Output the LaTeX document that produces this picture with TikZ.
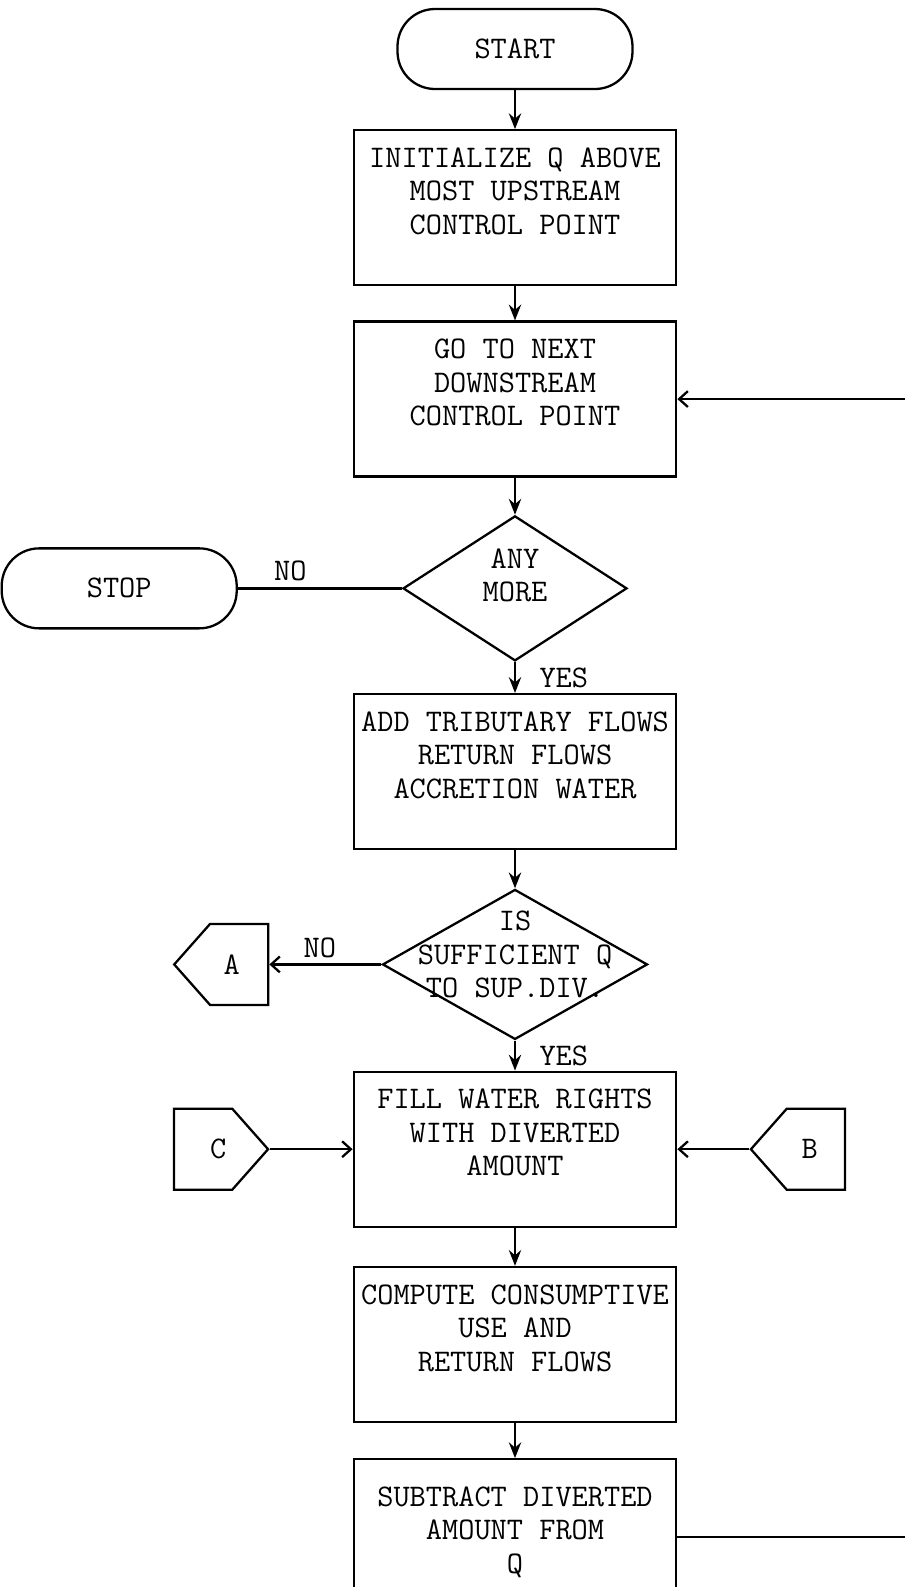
\documentclass[tikz,border=0pt]{standalone}
\usepackage{tikz}
\usetikzlibrary{shapes.geometric,shapes.symbols,arrows.meta,positioning,calc}
\newcommand{\flowfont}{\ttfamily\fontsize{17.9pt}{19pt}\selectfont}
\tikzset{
  term/.style={rectangle,rounded corners=0.75cm,draw,line width=1.3pt,
               minimum width=4.7cm,minimum height=1.6cm,font=\flowfont},
  proc/.style={rectangle,draw,line width=1.3pt,
               minimum width=6.45cm,minimum height=3.1cm,
               font=\flowfont,align=center,inner sep=2pt},
  dec/.style={diamond,draw,line width=1.3pt,inner sep=0pt},
  dlbl/.style={font=\flowfont,align=center},
  conn/.style={signal,signal to=#1,signal pointer angle=97,draw,
               line width=1.3pt,minimum width=1.88cm,minimum height=1.62cm,
               inner sep=0pt},
  arr/.style={-{Stealth[length=9pt,width=7pt,inset=3pt]},line width=1.3pt},
  barr/.style={-{Straight Barb[length=5pt,width=9pt]},line width=1.3pt},
  ln/.style={line width=1.3pt},
  lbl/.style={font=\flowfont},
}
\begin{document}
\begin{tikzpicture}[node distance=0.72cm and 2cm]
  \useasboundingbox (0,0) rectangle (18.1,-31.74);
  \node[term] (start) at (10.3,-0.98) {START};
  \node[proc,below=0.78cm of start] (init)
    {INITIALIZE Q ABOVE\\MOST UPSTREAM\\CONTROL POINT\\~};
  \node[proc,below=0.68cm of init] (next)
    {GO TO NEXT\\DOWNSTREAM\\CONTROL POINT\\~};
  \node[dec,minimum width=4.48cm,minimum height=2.9cm,below=0.74cm of next,
        label={[dlbl,yshift=0.26cm]center:ANY\\MORE}] (more) {};
  \node[term,left=3.28cm of more] (stop) {STOP};
  \node[proc,below=0.62cm of more] (add)
    {ADD TRIBUTARY FLOWS\\RETURN FLOWS\\ACCRETION WATER\\~};
  \node[dec,minimum width=5.3cm,minimum height=3cm,below=0.76cm of add,
        label={[dlbl,yshift=0.2cm]center:IS\\SUFFICIENT Q\\TO SUP.DIV.}] (suff) {};
  \node[conn=west,left=2.24cm of suff,
        label={[lbl,xshift=-0.15cm]center:A}] (a) {};
  \node[proc,below=0.6cm of suff] (fill)
    {FILL WATER RIGHTS\\WITH DIVERTED\\AMOUNT\\~};
  \node[conn=east,left=1.66cm of fill,
        label={[lbl,xshift=0.3cm]center:C}] (c) {};
  \node[conn=west,right=1.44cm of fill,
        label={[lbl,xshift=-0.12cm]center:B}] (b) {};
  \node[proc,below=0.76cm of fill] (cons)
    {COMPUTE CONSUMPTIVE\\USE AND\\RETURN FLOWS\\~};
  \node[proc,minimum height=3.5cm,below=0.7cm of cons] (sub)
    {SUBTRACT DIVERTED\\AMOUNT FROM\\Q\\~};

  % main flow
  \draw[arr] (start) -- (init);
  \draw[arr] (init) -- (next);
  \draw[arr] (next) -- (more);
  \draw[ln] (more.west) -- node[lbl,above,pos=0.68] {NO} (stop.east);
  \draw[arr] (more) -- node[lbl,right,xshift=0.35cm] {YES} (add);
  \draw[arr] (add) -- (suff);
  \draw[barr] (suff.west) -- node[lbl,above,pos=0.55] {NO} (a.east);
  \draw[arr] (suff) -- node[lbl,right,xshift=0.35cm] {YES} (fill);
  \draw[barr] (c.east) -- (fill.west);
  \draw[barr] (b.west) -- (fill.east);
  \draw[arr] (fill) -- (cons);
  \draw[arr] (cons) -- (sub);

  % back to next control point
  \draw[barr] ([yshift=0.2cm]sub.east) -- ++(5,0) |- (next.east);
\end{tikzpicture}
\end{document}
